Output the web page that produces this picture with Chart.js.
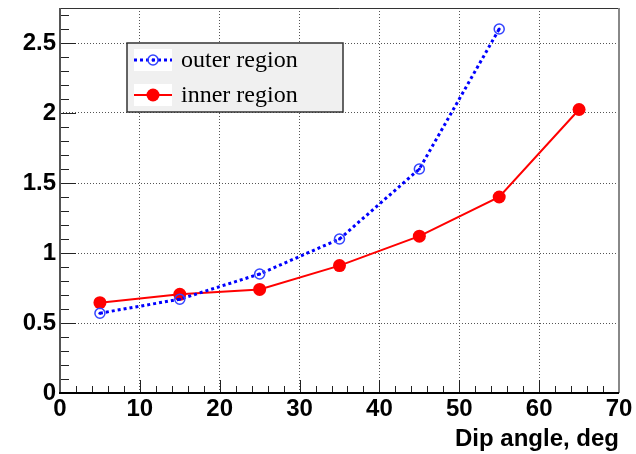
<!DOCTYPE html>
<html>
<head>
<meta charset="utf-8">
<title>Dip angle</title>
<script src="https://cdn.jsdelivr.net/npm/chart.js@4.4.0/dist/chart.umd.min.js"></script>
<style>
  html, body { margin: 0; padding: 0; background: #fff; }
</style>
</head>
<body>
<canvas id="grafica" width="636" height="454"></canvas>
<script>
// values
const dipAngle = [5, 15, 25, 35, 45, 55, 65];
const outerRegion = [0.57, 0.67, 0.85, 1.10, 1.60, 2.60];
const innerRegion = [0.645, 0.705, 0.74, 0.91, 1.12, 1.40, 2.025];
const seriesNames = ['outer region', 'inner region'];
const xTicks = [0, 10, 20, 30, 40, 50, 60, 70];
const yTicks = [0, 0.5, 1, 1.5, 2, 2.5];
const xMinorTicks = Array.from({ length: 36 }, (_, i) => i * 2);
const yMinorTicks = Array.from({ length: 28 }, (_, i) => +(i * 0.1).toFixed(1));

const BLUE = '#0000ff';
const RED = '#ff0000';

// ROOT-like tick marks, frame and legend box
const rootFrame = {
  id: 'rootFrame',
  afterDraw(chart) {
    const { ctx, chartArea: a, scales } = chart;
    const xs = scales.x, ys = scales.y;
    ctx.save();

    // tick marks inside the frame
    ctx.strokeStyle = '#222';
    ctx.lineWidth = 1;
    ctx.beginPath();
    yMinorTicks.forEach(v => {
      const py = Math.round(ys.getPixelForValue(v)) + 0.5;
      const major = yTicks.some(t => Math.abs(t - v) < 1e-6);
      ctx.moveTo(a.left, py);
      ctx.lineTo(a.left + (major ? 16 : 9), py);
    });
    xMinorTicks.forEach(v => {
      const px = Math.round(xs.getPixelForValue(v)) + 0.5;
      const major = xTicks.includes(v);
      ctx.moveTo(px, a.bottom);
      ctx.lineTo(px, a.bottom - (major ? 13 : 7));
    });
    ctx.stroke();

    // centre dots of the open markers
    ctx.fillStyle = BLUE;
    chart.getDatasetMeta(0).data.forEach(p => {
      ctx.beginPath();
      ctx.arc(p.x, p.y, 1.5, 0, Math.PI * 2);
      ctx.fill();
    });

    // frame
    ctx.strokeStyle = '#333';
    ctx.lineWidth = 1;
    ctx.beginPath();
    ctx.moveTo(a.left, a.top + 0.5);
    ctx.lineTo(a.right, a.top + 0.5);
    ctx.stroke();
    ctx.strokeStyle = '#888';
    ctx.lineWidth = 2;
    ctx.beginPath();
    ctx.moveTo(a.right, a.top);
    ctx.lineTo(a.right, a.bottom);
    ctx.stroke();
    ctx.strokeStyle = '#555';
    ctx.beginPath();
    ctx.moveTo(a.left, a.top);
    ctx.lineTo(a.left, a.bottom);
    ctx.stroke();
    ctx.strokeStyle = '#000';
    ctx.beginPath();
    ctx.moveTo(a.left - 1, a.bottom);
    ctx.lineTo(a.right, a.bottom);
    ctx.stroke();

    // legend
    const lx = 127, ly = 43, lw = 216, lh = 69;
    ctx.fillStyle = '#f0f0f0';
    ctx.fillRect(lx, ly, lw, lh);
    ctx.strokeStyle = '#333';
    ctx.lineWidth = 1.5;
    ctx.strokeRect(lx, ly, lw, lh);
    const rows = [ly + 17, ly + 52];
    rows.forEach((ry, i) => {
      ctx.fillStyle = '#fff';
      ctx.fillRect(lx + 7, ry - 11, 38, 22);
      if (i === 0) {
        ctx.strokeStyle = BLUE;
        ctx.lineWidth = 3;
        ctx.setLineDash([3, 3]);
      } else {
        ctx.strokeStyle = RED;
        ctx.lineWidth = 2;
        ctx.setLineDash([]);
      }
      ctx.beginPath();
      ctx.moveTo(lx + 7, ry);
      ctx.lineTo(lx + 45, ry);
      ctx.stroke();
      ctx.setLineDash([]);
      ctx.beginPath();
      if (i === 0) {
        ctx.arc(lx + 26, ry, 5, 0, Math.PI * 2);
        ctx.strokeStyle = '#3344ff';
        ctx.lineWidth = 1.5;
        ctx.stroke();
        ctx.beginPath();
        ctx.arc(lx + 26, ry, 1.5, 0, Math.PI * 2);
        ctx.fillStyle = BLUE;
        ctx.fill();
      } else {
        ctx.arc(lx + 26, ry, 6.5, 0, Math.PI * 2);
        ctx.fillStyle = RED;
        ctx.fill();
      }
      ctx.fillStyle = '#000';
      ctx.font = '24px "Liberation Serif", serif';
      ctx.textBaseline = 'middle';
      ctx.textAlign = 'left';
      ctx.fillText(seriesNames[i], lx + 54, ry + 1);
    });
    ctx.restore();
  }
};

const gridStyle = {
  color: '#555',
  lineWidth: 1,
  drawTicks: false
};

const tickFont = { family: '"Liberation Sans", Arial, sans-serif', size: 24, weight: 'bold' };

new Chart(document.getElementById('grafica'), {
  type: 'line',
  data: {
    datasets: [{
      label: seriesNames[0],
      data: outerRegion.map((v, i) => ({ x: dipAngle[i], y: v })),
      borderColor: BLUE,
      borderWidth: 3,
      borderDash: [3, 3],
      pointStyle: 'circle',
      pointRadius: 5,
      pointBorderWidth: 1.5,
      pointBorderColor: '#3344ff',
      pointBackgroundColor: 'rgba(0,0,0,0)',
      tension: 0
    }, {
      label: seriesNames[1],
      data: innerRegion.map((v, i) => ({ x: dipAngle[i], y: v })),
      borderColor: RED,
      borderWidth: 2,
      pointStyle: 'circle',
      pointRadius: 6.5,
      pointBorderWidth: 0,
      pointBackgroundColor: RED,
      tension: 0
    }]
  },
  options: {
    responsive: false,
    animation: false,
    layout: { padding: { top: 8, right: 17, left: 0, bottom: 0 } },
    plugins: { legend: { display: false }, tooltip: { enabled: false } },
    scales: {
      x: {
        type: 'linear',
        min: 0,
        max: 70,
        afterBuildTicks: s => { s.ticks = xTicks.map(v => ({ value: v })); },
        afterFit: s => { s.height = 61; s.paddingRight = 0; },
        grid: gridStyle,
        border: { display: false, dash: [1, 2] },
        ticks: {
          color: '#000',
          padding: 2,
          maxRotation: 0,
          font: tickFont
        },
        title: {
          display: true,
          text: 'Dip angle, deg',
          align: 'end',
          color: '#000',
          padding: { top: 0, bottom: 0 },
          font: { family: '"Liberation Sans", Arial, sans-serif', size: 24, weight: 'bold' }
        }
      },
      y: {
        type: 'linear',
        min: 0,
        max: 2.75,
        afterBuildTicks: s => { s.ticks = yTicks.map(v => ({ value: v })); },
        afterFit: s => { s.width = 60; s.paddingTop = 0; s.paddingBottom = 0; },
        grid: gridStyle,
        border: { display: false, dash: [1, 2] },
        ticks: {
          color: '#000',
          padding: 4,
          callback: v => String(v),
          font: tickFont
        }
      }
    }
  },
  plugins: [rootFrame]
});
</script>
</body>
</html>
